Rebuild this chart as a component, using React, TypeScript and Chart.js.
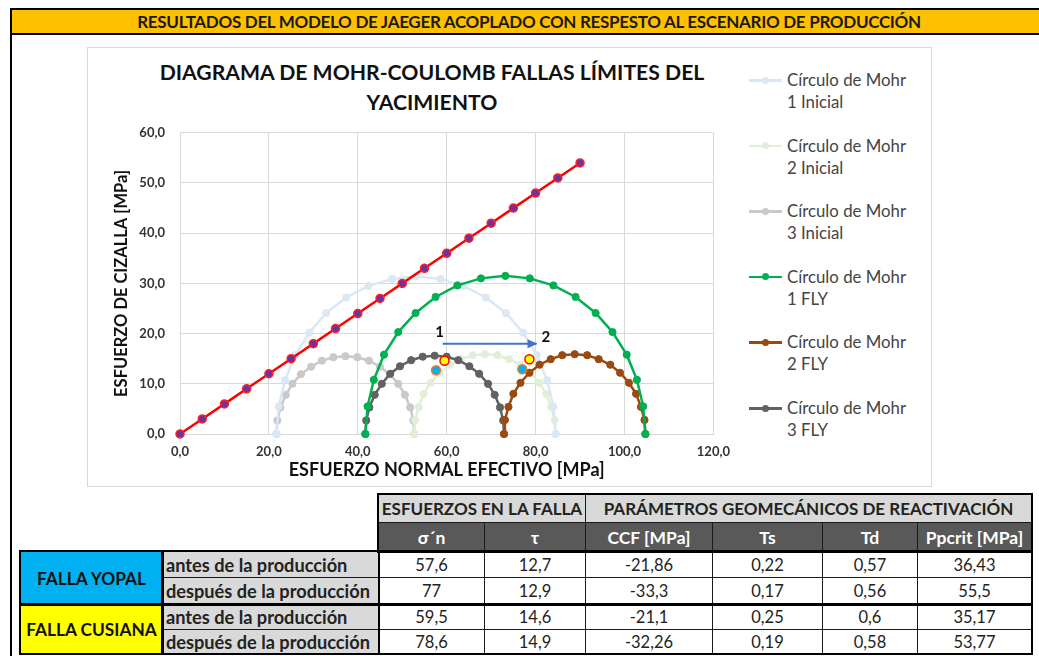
import React, { useEffect, useRef } from 'react';
import { Chart, registerables } from 'chart.js';

Chart.register(...registerables);

// ---------- DATA ----------
const xTickValues = [0, 20, 40, 60, 80, 100, 120];
const yTickValues = [0, 10, 20, 30, 40, 50, 60];

const c1InicialX = [21.7, 22.2, 23.6, 25.9, 29.1, 32.9, 37.4, 42.4, 47.7, 53.1, 58.6, 63.8, 68.8, 73.3, 77.2, 80.3, 82.6, 84.0, 84.5];
const c1InicialY = [0, 5.5, 10.7, 15.7, 20.2, 24.1, 27.2, 29.5, 30.9, 31.4, 30.9, 29.5, 27.2, 24.1, 20.2, 15.7, 10.7, 5.5, 0];

const c2InicialX = [52.7, 52.9, 53.7, 54.8, 56.4, 58.4, 60.7, 63.2, 65.8, 68.6, 71.4, 74.0, 76.6, 78.8, 80.8, 82.4, 83.5, 84.3, 84.5];
const c2InicialY = [0, 2.8, 5.4, 8.0, 10.2, 12.2, 13.8, 14.9, 15.7, 15.9, 15.7, 14.9, 13.8, 12.2, 10.2, 8.0, 5.4, 2.8, 0];

const c3InicialX = [21.7, 21.9, 22.6, 23.8, 25.3, 27.2, 29.5, 31.9, 34.5, 37.2, 39.9, 42.5, 45.0, 47.2, 49.1, 50.6, 51.8, 52.5, 52.7];
const c3InicialY = [0, 2.7, 5.3, 7.8, 10.0, 11.9, 13.4, 14.6, 15.3, 15.5, 15.3, 14.6, 13.4, 11.9, 10.0, 7.8, 5.3, 2.7, 0];

const c1FlyX = [41.7, 42.2, 43.6, 45.9, 49.1, 53.0, 57.5, 62.4, 67.7, 73.2, 78.7, 84.0, 89.0, 93.5, 97.3, 100.5, 102.8, 104.2, 104.7];
const c1FlyY = [0, 5.5, 10.8, 15.8, 20.3, 24.1, 27.3, 29.6, 31.0, 31.5, 31.0, 29.6, 27.3, 24.1, 20.3, 15.8, 10.8, 5.5, 0];

const c2FlyX = [72.9, 73.1, 73.9, 75.0, 76.6, 78.6, 80.9, 83.4, 86.0, 88.8, 91.6, 94.2, 96.8, 99.0, 101.0, 102.6, 103.7, 104.5, 104.7];
const c2FlyY = [0, 2.8, 5.4, 8.0, 10.2, 12.2, 13.8, 14.9, 15.7, 15.9, 15.7, 14.9, 13.8, 12.2, 10.2, 8.0, 5.4, 2.8, 0];

const c3FlyX = [41.7, 41.9, 42.6, 43.8, 45.4, 47.3, 49.5, 52.0, 54.6, 57.3, 60.0, 62.6, 65.1, 67.3, 69.3, 70.8, 72.0, 72.7, 72.9];
const c3FlyY = [0, 2.7, 5.3, 7.8, 10.0, 12.0, 13.5, 14.7, 15.4, 15.6, 15.4, 14.7, 13.5, 12.0, 10.0, 7.8, 5.3, 2.7, 0];

const envelopeX = [0, 5, 10, 15, 20, 25, 30, 35, 40, 45, 50, 55, 60, 65, 70, 75, 80, 85, 90];
const envelopeY = [0, 3, 6, 9, 12, 15, 18, 21, 24, 27, 30, 33, 36, 39, 42, 45, 48, 51, 54];

const faultNames = ['FALLA YOPAL', 'FALLA CUSIANA'];
const rowLabels = ['antes de la producción', 'después de la producción', 'antes de la producción', 'después de la producción'];
const sigmaN = [57.6, 77, 59.5, 78.6];
const tau = [12.7, 12.9, 14.6, 14.9];
const ccf = [-21.86, -33.3, -21.1, -32.26];
const tsVals = [0.22, 0.17, 0.25, 0.19];
const tdVals = [0.57, 0.56, 0.6, 0.58];
const ppcrit = [36.43, 55.5, 35.17, 53.77];

const arrowX = [59.1, 80.2];
const arrowY = [18.0, 18.0];
const arrowLabels = ['1', '2'];
const arrowLabelX = [58.4, 82.3];
const arrowLabelY = [20.3, 19.3];

const legendLine1 = ['Círculo de Mohr', 'Círculo de Mohr', 'Círculo de Mohr', 'Círculo de Mohr', 'Círculo de Mohr', 'Círculo de Mohr'];
const legendLine2 = ['1 Inicial', '2 Inicial', '3 Inicial', '1 FLY', '2 FLY', '3 FLY'];

// ---------- STYLES ----------
const FONT = "Lato, 'Open Sans', sans-serif";
const circleColors = ['#DAE7F5', '#E0EFD8', '#C9C9C9', '#00B050', '#9A4A10', '#616161'];

const fmt = (v: number) => String(v).replace('.', ',');
const pts = (xs: number[], ys: number[]) => xs.map((x, i) => ({ x, y: ys[i] }));

const arrowPlugin = {
  id: 'arrowAnn',
  afterDatasetsDraw(chart: any) {
    const { ctx, scales } = chart;
    const sx = scales.x, sy = scales.y;
    const tx = sx.getPixelForValue(arrowX[1]);
    const ty = sy.getPixelForValue(arrowY[1]);
    ctx.save();
    ctx.fillStyle = '#4472C4';
    ctx.beginPath();
    ctx.moveTo(tx + 1, ty);
    ctx.lineTo(tx - 9, ty - 4.5);
    ctx.lineTo(tx - 9, ty + 4.5);
    ctx.closePath();
    ctx.fill();
    ctx.fillStyle = '#111';
    ctx.font = `bold 15px ${FONT}`;
    ctx.textAlign = 'center';
    ctx.textBaseline = 'middle';
    arrowLabels.forEach((t, i) => {
      ctx.fillText(t, sx.getPixelForValue(arrowLabelX[i]), sy.getPixelForValue(arrowLabelY[i]));
    });
    ctx.restore();
  },
};

function circleDataset(label: string, xs: number[], ys: number[], color: string, order: number) {
  return {
    label,
    data: pts(xs, ys),
    showLine: true,
    clip: false,
    borderColor: color,
    backgroundColor: color,
    borderWidth: 2.5,
    pointRadius: 3.6,
    pointBackgroundColor: color,
    pointBorderColor: color,
    pointBorderWidth: 1,
    order,
  };
}

function MohrChart() {
  const ref = useRef<HTMLCanvasElement>(null);
  useEffect(() => {
    if (!ref.current) return;
    const datasets: any[] = [
      {
        label: 'arrow',
        data: pts(arrowX, arrowY),
        showLine: true,
        borderColor: '#4472C4',
        borderWidth: 2,
        pointRadius: 0,
        order: 0,
      },
      {
        label: 'Falla Yopal',
        data: pts(sigmaN.slice(0, 2), tau.slice(0, 2)),
        showLine: false,
        pointRadius: 4.5,
        pointBackgroundColor: '#00B0F0',
        pointBorderColor: '#ED7D31',
        pointBorderWidth: 1.5,
        order: 0,
      },
      {
        label: 'Falla Cusiana',
        data: pts(sigmaN.slice(2, 4), tau.slice(2, 4)),
        showLine: false,
        pointRadius: 4.5,
        pointBackgroundColor: '#FFFF00',
        pointBorderColor: '#FF0000',
        pointBorderWidth: 1.5,
        order: 0,
      },
      {
        label: 'Envolvente',
        data: pts(envelopeX, envelopeY),
        showLine: true,
        clip: false,
        borderColor: '#FF0000',
        borderWidth: 2.5,
        pointRadius: 4,
        pointBackgroundColor: '#7030A0',
        pointBorderColor: '#FF2020',
        pointBorderWidth: 1.5,
        order: 1,
      },
      circleDataset('Círculo de Mohr 1 FLY', c1FlyX, c1FlyY, circleColors[3], 2),
      circleDataset('Círculo de Mohr 2 FLY', c2FlyX, c2FlyY, circleColors[4], 3),
      circleDataset('Círculo de Mohr 3 FLY', c3FlyX, c3FlyY, circleColors[5], 4),
      circleDataset('Círculo de Mohr 1 Inicial', c1InicialX, c1InicialY, circleColors[0], 5),
      circleDataset('Círculo de Mohr 2 Inicial', c2InicialX, c2InicialY, circleColors[1], 6),
      circleDataset('Círculo de Mohr 3 Inicial', c3InicialX, c3InicialY, circleColors[2], 7),
    ];
    const chart = new Chart(ref.current, {
      type: 'scatter',
      data: { datasets },
      options: {
        responsive: false,
        animation: false,
        events: [],
        layout: { padding: { top: 10, right: 26, left: 0, bottom: 0 } },
        plugins: {
          legend: { display: false },
          tooltip: { enabled: false },
          title: { display: false },
        },
        scales: {
          x: {
            type: 'linear',
            min: xTickValues[0],
            max: xTickValues[xTickValues.length - 1],
            afterFit: (s: any) => { s.height = 48; },
            afterBuildTicks: (s: any) => { s.ticks = xTickValues.map((v) => ({ value: v })); },
            grid: { color: '#D9D9D9', lineWidth: 1, drawTicks: false },
            border: { color: '#D9D9D9' },
            ticks: {
              padding: 10,
              color: '#333',
              font: { family: FONT, size: 13, weight: 'bold' },
              callback: (v: any) => Number(v).toFixed(1).replace('.', ','),
            },
            title: {
              display: true,
              text: 'ESFUERZO NORMAL EFECTIVO [MPa]',
              color: '#111',
              font: { family: FONT, size: 18, weight: 'bold' },
              padding: { top: 0, bottom: 1 },
            },
          },
          y: {
            type: 'linear',
            min: yTickValues[0],
            max: yTickValues[yTickValues.length - 1],
            afterFit: (s: any) => { s.width = 80; },
            afterBuildTicks: (s: any) => { s.ticks = yTickValues.map((v) => ({ value: v })); },
            grid: { color: '#D9D9D9', lineWidth: 1, drawTicks: false },
            border: { color: '#D9D9D9' },
            ticks: {
              padding: 15,
              color: '#333',
              font: { family: FONT, size: 13, weight: 'bold' },
              callback: (v: any) => Number(v).toFixed(1).replace('.', ','),
            },
            title: {
              display: true,
              text: 'ESFUERZO DE CIZALLA [MPa]',
              color: '#111',
              font: { family: FONT, size: 16.5, weight: 'bold' },
              padding: { top: 12, bottom: 0 },
            },
          },
        },
      } as any,
      plugins: [arrowPlugin],
    });
    return () => chart.destroy();
  }, []);
  return (
    <canvas
      ref={ref}
      width={640}
      height={372}
      style={{ position: 'absolute', left: 100, top: 110, width: 640, height: 372 }}
    />
  );
}

// ---------- TABLE GEOMETRY ----------
const colX = [20, 162, 378, 484, 585, 712, 822, 917, 1031];
const rowY = [494, 522, 551, 577, 604, 629, 653];

function Cell(props: {
  x0: number; x1: number; y0: number; y1: number; bg?: string; children?: React.ReactNode;
  style?: React.CSSProperties; align?: 'center' | 'left';
}) {
  const { x0, x1, y0, y1, bg = '#fff', children, style, align = 'center' } = props;
  return (
    <div
      style={{
        position: 'absolute',
        left: x0,
        top: y0,
        width: x1 - x0 + 1,
        height: y1 - y0 + 1,
        boxSizing: 'border-box',
        border: '1px solid #1a1a1a',
        background: bg,
        display: 'flex',
        alignItems: 'center',
        justifyContent: align === 'center' ? 'center' : 'flex-start',
        paddingLeft: align === 'left' ? 3 : 0,
        fontFamily: FONT,
        fontSize: 16.5,
        color: '#222',
        whiteSpace: 'nowrap',
        overflow: 'hidden',
        ...style,
      }}
    >
      {children}
    </div>
  );
}

function Box({ x0, x1, y0, y1 }: { x0: number; x1: number; y0: number; y1: number }) {
  return (
    <div
      style={{
        position: 'absolute', left: x0 - 1, top: y0 - 1, width: x1 - x0 + 3, height: y1 - y0 + 3,
        boxSizing: 'border-box', border: '2px solid #000', pointerEvents: 'none',
      }}
    />
  );
}

function DataTable() {
  const dataCols = [sigmaN, tau, ccf, tsVals, tdVals, ppcrit];
  const headers2 = ['σ´n', 'τ', 'CCF [MPa]', 'Ts', 'Td', 'Ppcrit [MPa]'];
  const cells: React.ReactNode[] = [];
  cells.push(
    <Cell key="h1a" x0={colX[2]} x1={colX[4]} y0={rowY[0]} y1={rowY[1]} bg="#D9D9D9" style={{ fontWeight: 700, fontSize: 17 }}>
      ESFUERZOS EN LA FALLA
    </Cell>,
  );
  cells.push(
    <Cell key="h1b" x0={colX[4]} x1={colX[8]} y0={rowY[0]} y1={rowY[1]} bg="#D9D9D9" style={{ fontWeight: 700, fontSize: 17 }}>
      PARÁMETROS GEOMECÁNICOS DE REACTIVACIÓN
    </Cell>,
  );
  headers2.forEach((h, i) => {
    cells.push(
      <Cell key={'h2' + i} x0={colX[2 + i]} x1={colX[3 + i]} y0={rowY[1]} y1={rowY[2]} bg="#595959" style={{ fontWeight: 700, color: '#fff', fontSize: 17.5 }}>
        {h}
      </Cell>,
    );
  });
  faultNames.forEach((f, g) => {
    cells.push(
      <Cell key={'f' + g} x0={colX[0]} x1={colX[1]} y0={rowY[2 + g * 2]} y1={rowY[4 + g * 2]} bg={g === 0 ? '#00B0F0' : '#FFFF00'} style={{ fontWeight: 700, color: '#111', fontSize: 17.3 }}>
        {f}
      </Cell>,
    );
  });
  rowLabels.forEach((lab, r) => {
    cells.push(
      <Cell key={'l' + r} x0={colX[1]} x1={colX[2]} y0={rowY[2 + r]} y1={rowY[3 + r]} bg="#D9D9D9" align="left" style={{ fontWeight: 700, fontSize: 18.2 }}>
        {lab}
      </Cell>,
    );
    dataCols.forEach((col, c) => {
      cells.push(
        <Cell key={'d' + r + '_' + c} x0={colX[3 + c - 1]} x1={colX[3 + c]} y0={rowY[2 + r]} y1={rowY[3 + r]}>
          {fmt(col[r])}
        </Cell>,
      );
    });
  });
  return (
    <>
      {cells}
      <Box x0={colX[2]} x1={colX[8]} y0={rowY[0]} y1={rowY[2]} />
      <Box x0={colX[0]} x1={colX[8]} y0={rowY[2]} y1={rowY[4]} />
      <Box x0={colX[0]} x1={colX[8]} y0={rowY[4]} y1={rowY[6]} />
      <Box x0={colX[0]} x1={colX[1]} y0={rowY[2]} y1={rowY[6]} />
      <Box x0={colX[1]} x1={colX[2]} y0={rowY[2]} y1={rowY[6]} />
    </>
  );
}

function Legend() {
  return (
    <>
      {legendLine1.map((t, i) => {
        const cy = 80 + 65.6 * i;
        return (
          <div key={i} style={{ position: 'absolute', left: 749, top: cy - 11, width: 180 }}>
            <div style={{ position: 'absolute', left: 0, top: 10, width: 33, height: 2.5, background: circleColors[i] }} />
            <div style={{ position: 'absolute', left: 13, top: 7.5, width: 7, height: 7, borderRadius: '50%', background: circleColors[i] }} />
            <div style={{ position: 'absolute', left: 38, top: 0, fontFamily: FONT, fontSize: 16.8, lineHeight: '22px', color: '#444', whiteSpace: 'nowrap' }}>
              {t}
              <br />
              {legendLine2[i]}
            </div>
          </div>
        );
      })}
    </>
  );
}

export default function App() {
  return (
    <div style={{ position: 'fixed', left: 0, top: 0, width: 1039, height: 656, background: '#fff', overflow: 'hidden' }}>
      <div style={{ position: 'absolute', left: 10, top: 8, width: 1060, height: 700, border: '2px solid #000', boxSizing: 'border-box' }} />
      <div
        style={{
          position: 'absolute', left: 12, top: 10, width: 1040, height: 23, background: '#FFC000',
          borderBottom: '2px solid #000', display: 'flex', alignItems: 'center', justifyContent: 'flex-start',
        }}
      >
        <div style={{ position: 'absolute', left: 0, width: 1034, textAlign: 'center', fontFamily: FONT, fontWeight: 700, fontSize: 17, color: '#1a1a1a', letterSpacing: -0.3 }}>
          RESULTADOS DEL MODELO DE JAEGER ACOPLADO CON RESPESTO AL ESCENARIO DE PRODUCCIÓN
        </div>
      </div>
      <div style={{ position: 'absolute', left: 87, top: 47, width: 845, height: 440, border: '1px solid #D9D9D9', boxSizing: 'border-box' }} />
      <div style={{ position: 'absolute', left: 112, top: 57, width: 640, textAlign: 'center', fontFamily: FONT, fontWeight: 700, fontSize: 21.2, lineHeight: '30px', color: '#111' }}>
        DIAGRAMA DE MOHR-COULOMB FALLAS LÍMITES DEL
        <br />
        YACIMIENTO
      </div>
      <MohrChart />
      <Legend />
      <DataTable />
    </div>
  );
}
